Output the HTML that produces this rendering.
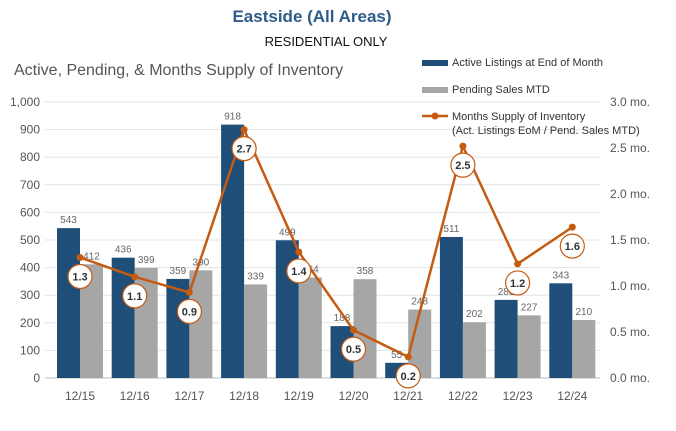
<!DOCTYPE html>
<html><head><meta charset="utf-8"><style>
body{margin:0;background:#fff;width:676px;height:426px;overflow:hidden;font-family:"Liberation Sans",sans-serif}
svg text{font-family:"Liberation Sans",sans-serif}
</style></head><body>
<svg id="c" width="676" height="426">
<text x="312" y="22" text-anchor="middle" font-size="17" font-weight="bold" fill="#2e5c8a">Eastside (All Areas)</text>
<text x="326" y="46" text-anchor="middle" font-size="13" fill="#111">RESIDENTIAL ONLY</text>
<text x="14" y="75" font-size="16" fill="#555">Active, Pending, &amp; Months Supply of Inventory</text>
<g id="grid"></g><g id="bars"></g><g id="line"></g><g id="axes"></g>
<g>
<rect x="422" y="60" width="26" height="6" fill="#1f4e79"/>
<text x="452" y="66" font-size="11" fill="#333">Active Listings at End of Month</text>
<rect x="422" y="87" width="26" height="6" fill="#a6a6a6"/>
<text x="452" y="93" font-size="11" fill="#333">Pending Sales MTD</text>
<line x1="422" y1="116" x2="448" y2="116" stroke="#c55a11" stroke-width="2.5"/>
<circle cx="435" cy="116" r="3.5" fill="#c55a11"/>
<text x="452" y="120" font-size="11" fill="#333">Months Supply of Inventory</text>
<text x="452" y="134" font-size="11" fill="#333">(Act. Listings EoM / Pend. Sales MTD)</text>
</g>
</svg>
<script>
const categories=["12/15","12/16","12/17","12/18","12/19","12/20","12/21","12/22","12/23","12/24"];
const activeListings=[543,436,359,918,499,188,55,511,283,343];
const pendingSales=[412,399,390,339,364,358,248,202,227,210];
const monthsSupply=[1.31,1.1,0.93,2.7,1.37,0.52,0.23,2.52,1.24,1.64];
const leftTicks=[0,100,200,300,400,500,600,700,800,900,1000];
const rightTicks=[0,0.5,1,1.5,2,2.5,3];
const NS="http://www.w3.org/2000/svg";
const y0=378,y1=102,x0=80,dx=54.7;
const yL=v=>y0-(v/1000)*(y0-y1);
const yR=v=>y0-(v/3)*(y0-y1);
const xC=i=>x0+i*dx;
function mk(tag,attrs,parent,txt){const e=document.createElementNS(NS,tag);for(const k in attrs)e.setAttribute(k,attrs[k]);if(txt!==undefined)e.textContent=txt;document.getElementById(parent).appendChild(e);return e;}
leftTicks.forEach(t=>{
  const g=mk('line',{x1:45,x2:600,y1:yL(t),y2:yL(t),stroke:t===0?'#bbb':'#e3e3e3','stroke-width':1},'grid');
  
  
  const l=mk('text',{x:40,y:yL(t)+4,'text-anchor':'end','font-size':12,fill:'#555'},'axes',t.toLocaleString('en-US'));
  
  
});
rightTicks.forEach(t=>{
  const l=mk('text',{x:610,y:yR(t)+4,'font-size':12,fill:'#555'},'axes',t.toFixed(1)+' mo.');
  
  
});
categories.forEach((c,i)=>{
  const cx=xC(i);
  const a=mk('rect',{x:cx-23,y:yL(activeListings[i]),width:23,height:y0-yL(activeListings[i]),fill:'#1f4e79'},'bars');
  
  
  const p=mk('rect',{x:cx,y:yL(pendingSales[i]),width:23,height:y0-yL(pendingSales[i]),fill:'#a6a6a6'},'bars');
  
  
  const av=mk('text',{x:cx-11.5,y:yL(activeListings[i])-5,'text-anchor':'middle','font-size':10,fill:'#666'},'bars',activeListings[i]);
  
  
  const pv=mk('text',{x:cx+11.5,y:yL(pendingSales[i])-5,'text-anchor':'middle','font-size':10,fill:'#666'},'bars',pendingSales[i]);
  
  
  const xl=mk('text',{x:cx,y:400,'text-anchor':'middle','font-size':12,fill:'#555'},'axes',c);
  
  
});
const pts=monthsSupply.map((v,i)=>xC(i)+','+yR(v)).join(' ');
const pl=mk('polyline',{points:pts,fill:'none',stroke:'#c55a11','stroke-width':2.5},'line');


monthsSupply.forEach((v,i)=>{
  const d=mk('circle',{cx:xC(i),cy:yR(v),r:3.5,fill:'#c55a11'},'line');
  
  
});
monthsSupply.forEach((v,i)=>{
  const b=mk('circle',{cx:xC(i),cy:yR(v)+19,r:12,fill:'#fff',stroke:'#c55a11','stroke-width':1.2},'line');
  
  
  const t=mk('text',{x:xC(i),y:yR(v)+23,'text-anchor':'middle','font-size':11,'font-weight':'bold',fill:'#333'},'line',v.toFixed(1));
  
  
});
</script>
</body></html>
